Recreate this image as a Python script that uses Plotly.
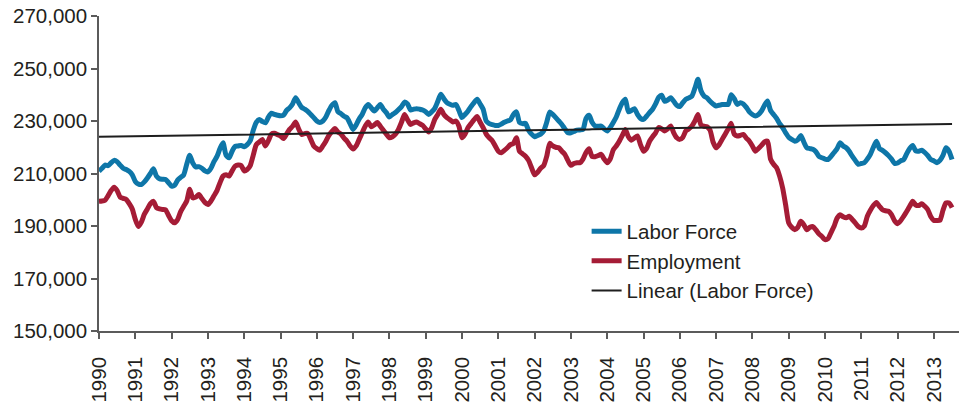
import numpy as np
import plotly.graph_objects as go

# Monthly values, Jan 1990 - Jul 2013
labor_force = [
    # 1990
    210900, 212000, 213200, 213000, 214100, 215000, 214500, 213200, 212000, 211500, 210800, 209500,
    # 1991
    207000, 206000, 205800, 206800, 208300, 210000, 211800, 209000, 208000, 207800, 207700, 206500,
    # 1992
    205200, 205500, 207500, 208500, 209500, 213500, 217000, 214000, 212500, 212600, 212000, 211000,
    # 1993
    210600, 212000, 214500, 216500, 219500, 221700, 217000, 216000, 218500, 220300, 220500, 220700,
    # 1994
    220200, 221000, 222500, 226500, 229500, 230600, 229800, 229300, 231500, 233000, 232500, 232200,
    # 1995
    232000, 232200, 234000, 235000, 236500, 238900, 237000, 235200, 234500, 233700, 232500, 231300,
    # 1996
    230000, 229400, 230000, 231500, 234000, 236000, 237000, 233500, 232800, 231800, 231200, 229000,
    # 1997
    226800, 228500, 230800, 232500, 235000, 236300, 235000, 233800, 235000, 236300, 234500, 233200,
    # 1998
    231500, 232500, 233200, 234300, 235500, 237200, 236500, 234200, 234500, 234700, 234500, 234200,
    # 1999
    233500, 232500, 233500, 234800, 237500, 240200, 238500, 237000, 236400, 236000, 236300, 234000,
    # 2000
    231300, 232500, 233800, 235500, 237000, 238300, 236500, 234500, 230000, 229000, 228600, 228300,
    # 2001
    228300, 228800, 229500, 230000, 230400, 232500, 233500, 229500, 229000, 229100, 226500, 225000,
    # 2002
    224000, 224500, 225000, 226200, 229500, 233400, 232500, 231300, 230000, 228700, 227000, 225500,
    # 2003
    225500, 226000, 226500, 226600, 226800, 231000, 232200, 229500, 228100, 228000, 228100, 227000,
    # 2004
    226200, 227500, 229400, 231500, 234500, 237000, 238300, 233500, 234000, 234700, 232500, 231000,
    # 2005
    230600, 231800, 233200, 234500, 236500, 239000, 239800, 237500, 238000, 238900, 237500, 236000,
    # 2006
    235500, 237000, 238300, 238800, 239500, 242500, 245900, 241500, 239500, 238800, 237500, 236500,
    # 2007
    235700, 236000, 236300, 236300, 236300, 240000, 238500, 236300, 237000, 236500, 235200, 233500,
    # 2008
    232500, 231900, 232500, 233800, 236000, 237600, 234000, 232500, 231000, 229000, 227500, 225500,
    # 2009
    223800, 223000, 222300, 222800, 224500, 222000, 219800, 219500, 219200, 218300, 216500, 216000,
    # 2010
    215500, 215300, 216500, 218000, 219500, 221700, 220500, 219800, 218500, 216600, 215000, 213500,
    # 2011
    213800, 214100, 215500, 217300, 220000, 222300, 219500, 218800, 217900, 216800, 215500, 213800,
    # 2012
    214000, 214800, 215300, 217500, 219500, 220700, 218600, 218500, 218900, 218000, 216800, 215300,
    # 2013
    214800, 214100, 215000, 216900, 219800, 218500, 215300,
]

employment = [
    # 1990
    199400, 199500, 199800, 201500, 203500, 204800, 203500, 201000, 200500, 200100, 198500, 196500,
    # 1991
    192500, 189800, 191500, 194500, 196500, 198500, 199400, 197000, 196500, 196300, 196200, 194000,
    # 1992
    192000, 191200, 192500, 195500, 197500, 199500, 204000, 200700, 201000, 202000, 200500, 199000,
    # 1993
    198200, 199500, 201500, 203500, 206500, 209000, 209500, 209000, 211000, 212800, 213200, 213000,
    # 1994
    211000, 211500, 213000, 217000, 221000, 222000, 223000, 220500, 222500, 225000, 225300, 224800,
    # 1995
    224300, 223300, 225000, 226800, 228000, 229600, 227000, 224900, 225200, 225300, 223000, 220500,
    # 1996
    219500, 218900, 220500, 222300, 224500, 226000, 227100, 225800, 225000, 223500, 222300, 220500,
    # 1997
    219300, 220500, 223000, 225500, 228000, 229600, 227800, 228500, 229400, 228000, 226500, 225000,
    # 1998
    223600, 224000, 225000, 226800, 229500, 232500, 230500, 228700, 229300, 229600, 229000, 228300,
    # 1999
    227000, 225800, 227500, 230600, 232500, 234500, 232500, 231300, 230500, 229600, 230000, 228000,
    # 2000
    223600, 225000, 227500, 229000, 230500, 231700, 229500, 227500, 225000, 223600, 222500, 220500,
    # 2001
    218500, 217900, 218800, 219800, 221000, 221500, 223600, 218500, 217500, 216600, 215000, 212200,
    # 2002
    209500, 210500, 212000, 213000, 216500, 221500, 220500, 220000, 219800, 218500, 217300, 215000,
    # 2003
    213100, 213800, 214100, 214100, 215500, 218000, 219400, 216500, 216400, 216800, 217300, 215500,
    # 2004
    214100, 215500, 219000, 220500, 222300, 224500, 226800, 224000, 222700, 223500, 224300, 221000,
    # 2005
    218500, 219500, 222300, 224000, 225500, 227500, 227000, 226200, 227000, 228100, 225500, 223600,
    # 2006
    223000, 223800, 226200, 227000, 228100, 230000, 232500, 228500, 228000, 227800, 226500, 222000,
    # 2007
    219800, 221000, 223000, 225000, 227000, 229100, 225000, 224300, 224500, 224900, 223500, 222300,
    # 2008
    220500, 218500, 219500, 220700, 222000, 222300, 215500, 213500, 212200, 209000, 204500, 198000,
    # 2009
    191200, 189500, 188600, 189500, 191800, 190500, 188600, 189500, 189800, 188500, 187000, 186000,
    # 2010
    184800, 185200, 187500, 189900, 193000, 194300, 193500, 193100, 193700, 192500, 191200, 189800,
    # 2011
    189200, 190000, 193700, 196000, 197800, 199000, 197500, 196200, 195800, 195600, 194300, 192000,
    # 2012
    190900, 192000, 193700, 195500, 197500, 199400, 198000, 197800, 198500, 197500, 196200, 193500,
    # 2013
    192100, 192100, 192200, 196000, 198800, 198800, 197000,
]

years = [str(y) for y in range(1990, 2014)]

months = np.arange(len(labor_force))
slope, intercept = np.polyfit(months, labor_force, 1)
trend = intercept + slope * months

TXT = "#231f20"
AX = "#5b5b5b"
FONT = "Liberation Sans, Arial, Helvetica, sans-serif"
FS = 20.5

fig = go.Figure()
fig.add_trace(go.Scatter(x=months, y=labor_force, mode="lines", name="Labor Force",
                         line=dict(color="#0e76a8", width=5, shape="spline", smoothing=0.6)))
fig.add_trace(go.Scatter(x=months, y=employment, mode="lines", name="Employment",
                         line=dict(color="#a51c36", width=5, shape="spline", smoothing=0.6)))
fig.add_trace(go.Scatter(x=months, y=trend, mode="lines", name="Linear (Labor Force)",
                         line=dict(color="#1e1e1e", width=2)))

fig.update_layout(
    width=961, height=402,
    margin=dict(l=99, r=2, t=16, b=71),
    paper_bgcolor="white", plot_bgcolor="white",
    font=dict(family=FONT, size=FS, color=TXT),
    showlegend=True,
    legend=dict(x=0.567, y=0.38, xanchor="left", yanchor="top",
                bgcolor="rgba(0,0,0,0)", font=dict(size=FS, color=TXT),
                itemwidth=30, tracegroupgap=0),
)
fig.update_xaxes(
    range=[0, 284.3],
    automargin=False,
    tickmode="array",
    tickvals=[12 * k for k in range(len(years))],
    ticktext=years,
    tickangle=-90,
    showline=True, linecolor=AX, linewidth=1.5,
    ticks="outside", ticklen=6, tickcolor=AX, tickwidth=1.5,
    showgrid=False, zeroline=False,
    ticklabelstandoff=10,
    ticklabeloverflow="allow",
    tickfont=dict(size=FS, color=TXT),
)
fig.update_yaxes(
    range=[150000, 270000],
    automargin=False,
    tickmode="linear", tick0=150000, dtick=20000,
    tickformat=",d",
    showline=True, linecolor=AX, linewidth=1.5,
    ticks="outside", ticklen=6, tickcolor=AX, tickwidth=1.5,
    showgrid=False, zeroline=False,
    ticklabeloverflow="allow",
    tickfont=dict(size=FS, color=TXT),
)

# remove the default page margin so the figure fills the window exactly
fig.write_html("out.html",
               config={"displayModeBar": False},
               post_script="document.body.style.margin='0';document.body.style.overflow='hidden';")
